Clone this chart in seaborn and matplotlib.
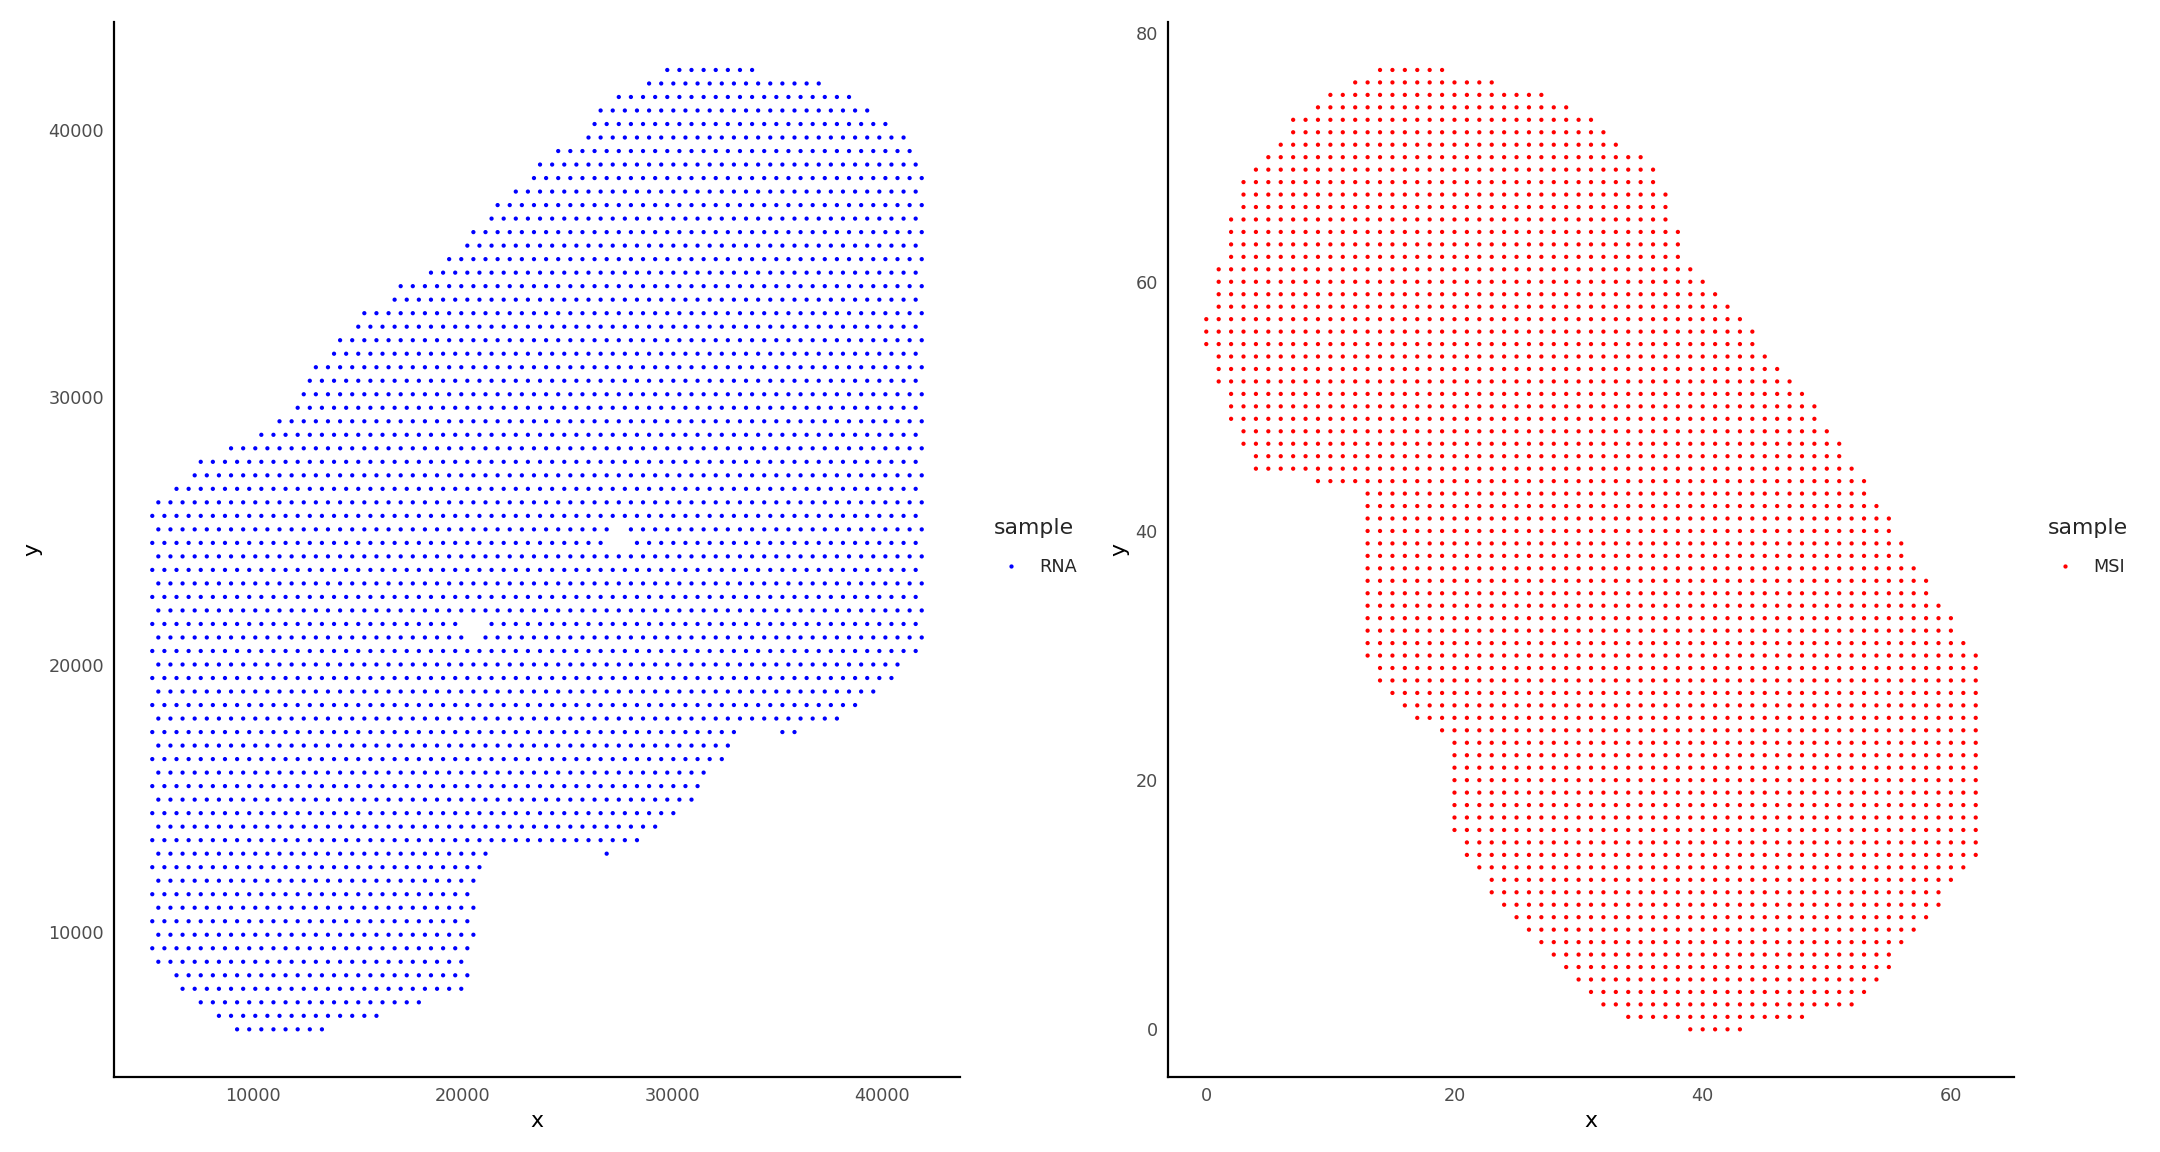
import pandas as pd
import matplotlib
matplotlib.use("Agg")
import matplotlib.pyplot as plt
import seaborn as sns

# ---------- RNA spots (hex grid) ----------
# row r -> y = RNA_Y0 + r * RNA_DY ; half-step column k -> x = RNA_X0 + k * RNA_DX
RNA_X0, RNA_DX = 5200, 289
RNA_Y0, RNA_DY = 6371, 505
rna_row_start = [14, 11, 8, 5, 4, 1, 0, 1, 0, 1, 0, 1, 0, 1, 0, 1, 0, 1, 0, 1,
                 0, 1, 0, 1, 0, 1, 0, 1, 0, 1, 0, 1, 0, 1, 0, 1, 0, 1, 0, 1,
                 4, 7, 8, 13, 18, 21, 24, 25, 26, 27, 30, 31, 34, 35, 40, 41, 46, 49, 52, 53,
                 56, 57, 60, 63, 64, 67, 72, 73, 74, 77, 82, 85]
rna_row_end = [28, 37, 44, 51, 52, 51, 52, 53, 52, 53, 52, 53, 54, 55, 80, 83, 86, 89, 90, 91,
               94, 95, 96, 113, 116, 119, 122, 123, 126, 127, 126, 127, 126, 127, 126, 127, 126, 127, 126, 127,
               126, 127, 126, 127, 126, 127, 126, 127, 126, 127, 126, 127, 126, 127, 126, 127, 126, 127, 126, 127,
               126, 127, 126, 127, 126, 125, 124, 121, 118, 115, 110, 99]
rna_missing = [(29, 53), (30, 52), (30, 54), (36, 76), (36, 78), (37, 77)]
rna_extra = [(13, 75), (22, 104), (22, 106)]

# ---------- MSI pixels (square grid, one row per y) ----------
msi_row_start = [39, 34, 32, 31, 30, 29, 28, 27, 26, 25, 24, 23, 23, 22, 21, 21,
                 20, 20, 20, 20, 20, 20, 20, 20, 19, 17, 16, 15, 14, 14,
                 13, 13, 13, 13, 13, 13, 13, 13, 13, 13, 13, 13, 13, 13,
                 9, 4, 4, 3, 3, 2, 2, 2, 1, 1, 1, 0, 0, 0, 1, 1, 1, 1,
                 2, 2, 2, 2, 3, 3, 3, 4, 5, 6, 7, 7, 9, 10, 12, 14]
msi_row_end = [43, 48, 52, 53, 54, 55, 55, 56, 57, 58, 59, 59, 60, 61,
               62, 62, 62, 62, 62, 62, 62, 62, 62, 62, 62, 62, 62, 62, 62, 62, 62,
               61, 60, 60, 59, 58, 58, 57, 56, 56, 55, 55, 54, 53, 53, 52, 51, 51, 50,
               49, 49, 48, 47, 46, 45, 44, 44, 43, 42, 41, 40, 39, 38, 38, 38,
               37, 37, 37, 36, 36, 35, 33, 32, 31, 29, 27, 23, 19]

# expand the row extents into spot coordinates
rna_pts = []
for r, (k0, k1) in enumerate(zip(rna_row_start, rna_row_end)):
    for k in range(k0, k1 + 1, 2):
        if (r, k) not in rna_missing:
            rna_pts.append((r, k))
rna_pts += rna_extra
rna = pd.DataFrame({
    "x": [RNA_X0 + k * RNA_DX for r, k in rna_pts],
    "y": [RNA_Y0 + r * RNA_DY for r, k in rna_pts],
    "sample": "RNA",
})

msi_pts = []
for yv, (x0, x1) in enumerate(zip(msi_row_start, msi_row_end)):
    for xv in range(x0, x1 + 1):
        msi_pts.append((xv, yv))
msi = pd.DataFrame({
    "x": [p[0] for p in msi_pts],
    "y": [p[1] for p in msi_pts],
    "sample": "MSI",
})

# ---------- plotting ----------
sns.set_style("white")
plt.rcParams["font.family"] = ["DejaVu Sans"]

W, H = 2160, 1152
fig = plt.figure(figsize=(15, 8), dpi=144)
ax1 = fig.add_axes([113.8 / W, 1 - 1077.3 / H, 846.4 / W, 1055.3 / H])
ax2 = fig.add_axes([1167.8 / W, 1 - 1077.3 / H, 846.4 / W, 1055.3 / H])


def expand(lo, hi):
    pad = (hi - lo) * 0.05
    return lo - pad, hi + pad


panels = [
    (ax1, rna, {"RNA": "blue"}, [10000, 20000, 30000, 40000], [10000, 20000, 30000, 40000], 985),
    (ax2, msi, {"MSI": "red"}, [0, 20, 40, 60], [0, 20, 40, 60, 80], 2039),
]

for ax, df, pal, xt, yt, leg_x in panels:
    sns.scatterplot(data=df, x="x", y="y", hue="sample", palette=pal,
                    s=4.5, linewidth=0, ax=ax)
    ax.set_xlim(*expand(df["x"].min(), df["x"].max()))
    ax.set_ylim(*expand(df["y"].min(), df["y"].max()))
    ax.set_xticks(xt)
    ax.set_yticks(yt)
    sns.despine(ax=ax)
    for side in ["left", "bottom"]:
        ax.spines[side].set_color("black")
        ax.spines[side].set_linewidth(1.1)
    ax.tick_params(axis="both", length=2.75, width=1.1, color="#333333",
                   labelsize=8.8, labelcolor="#4D4D4D", pad=2.2)
    ax.set_xlabel("x", fontsize=11, color="black", labelpad=3)
    ax.set_ylabel("y", fontsize=11, color="black", labelpad=3)
    sns.move_legend(ax, "center left", bbox_to_anchor=(leg_x / W, 1 - 547 / H),
                    bbox_transform=fig.transFigure, frameon=False, title="sample",
                    fontsize=8.8, title_fontsize=11, borderpad=0, labelspacing=1.1,
                    handlelength=2.0, handletextpad=0.6, alignment="left")

fig.savefig("out.png", dpi=144)
